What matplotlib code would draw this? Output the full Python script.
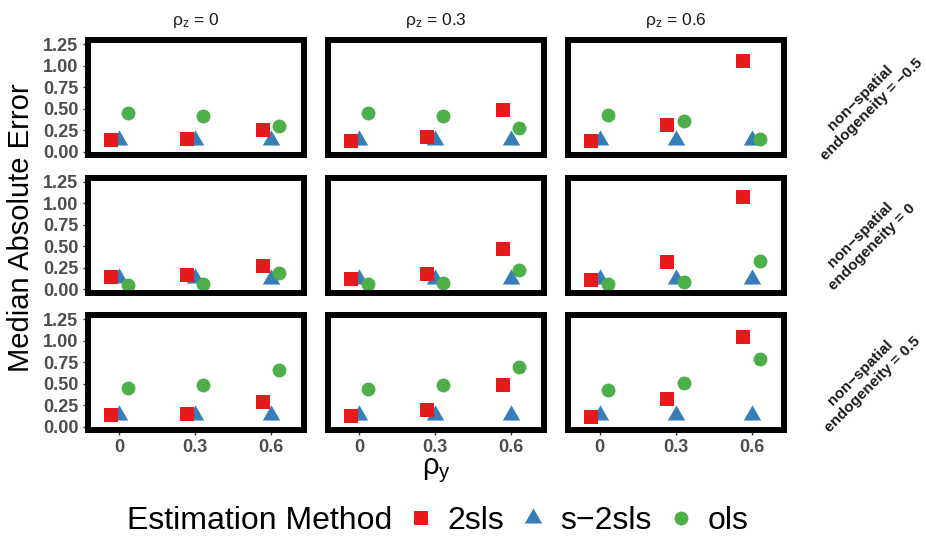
import matplotlib
matplotlib.use("Agg")
import matplotlib.pyplot as plt
from matplotlib.lines import Line2D

plt.rcParams['font.family'] = ['Liberation Sans', 'DejaVu Sans']
plt.rcParams['mathtext.fontset'] = 'custom'
plt.rcParams['mathtext.rm'] = 'Liberation Sans'

# facets
rho_z = ["0", "0.3", "0.6"]
endog = ["\u22120.5", "0", "0.5"]
rho_y = [0, 0.3, 0.6]

# median absolute error, [endogeneity row][rho_z col][rho_y]
mae_2sls = [
    [[0.13, 0.15, 0.25], [0.12, 0.17, 0.49], [0.12, 0.31, 1.05]],
    [[0.145, 0.16, 0.27], [0.12, 0.18, 0.47], [0.105, 0.31, 1.07]],
    [[0.135, 0.147, 0.29], [0.124, 0.194, 0.485], [0.115, 0.32, 1.048]],
]
mae_s2sls = [
    [[0.13, 0.13, 0.13], [0.13, 0.13, 0.13], [0.13, 0.13, 0.13]],
    [[0.125, 0.125, 0.115], [0.12, 0.12, 0.12], [0.12, 0.12, 0.12]],
    [[0.135, 0.135, 0.135], [0.135, 0.135, 0.135], [0.135, 0.135, 0.135]],
]
mae_ols = [
    [[0.45, 0.42, 0.30], [0.45, 0.42, 0.27], [0.43, 0.36, 0.15]],
    [[0.048, 0.06, 0.19], [0.056, 0.068, 0.22], [0.056, 0.08, 0.33]],
    [[0.446, 0.485, 0.66], [0.438, 0.485, 0.69], [0.427, 0.505, 0.788]],
]

c_2sls = "#E41A1C"
c_s2sls = "#377EB8"
c_ols = "#4DAF4A"
# triangle centred on its centroid like R's pch 17
tri = [(0, 1.555), (1.347, -0.778), (-1.347, -0.778)]

W, H = 926, 538
fig = plt.figure(figsize=(W / 100, H / 100), dpi=100)

lefts = [87.5, 327.5, 568]
tops = [40, 177.5, 315]
pw, ph = 216.5, 115
dodge = 0.033

for r in range(3):
    for c in range(3):
        ax = fig.add_axes([lefts[c] / W, 1 - (tops[r] + ph) / H, pw / W, ph / H])
        xs = rho_y
        ax.plot([x for x in xs], mae_s2sls[r][c], ls='none', marker=tri, ms=14.5,
                mew=0, color=c_s2sls, zorder=3)
        ax.plot([x + dodge for x in xs], mae_ols[r][c], ls='none', marker='o', ms=10,
                mew=0, color=c_ols, zorder=4)
        ax.plot([x - dodge for x in xs], mae_2sls[r][c], ls='none', marker='s', ms=10,
                mew=0, color=c_2sls, zorder=5)
        ax.set_xlim(-0.125, 0.73)
        ax.set_ylim(-0.04, 1.30)
        ax.set_xticks(rho_y)
        ax.set_xticklabels(["0", "0.3", "0.6"])
        ax.set_yticks([0, 0.25, 0.5, 0.75, 1.0, 1.25])
        ax.set_yticklabels(["0.00", "0.25", "0.50", "0.75", "1.00", "1.25"])
        for s in ax.spines.values():
            s.set_linewidth(4.3)
            s.set_color("black")
            s.set_zorder(6)
        ax.tick_params(axis='both', colors='#333333', labelcolor='#4d4d4d',
                       labelsize=13, length=3.5, width=1.0, pad=3)
        for lab in ax.get_xticklabels() + ax.get_yticklabels():
            lab.set_fontweight('bold')
        if c != 0:
            ax.tick_params(axis='y', left=False, labelleft=False)
        if r != 2:
            ax.tick_params(axis='x', bottom=False, labelbottom=False)
        if r == 0:
            ax.set_title(r'$\mathregular{\rho_z}$ = ' + rho_z[c], fontsize=12.5,
                         color='#1a1a1a', pad=11)
        if c == 2:
            fig.text(866 / W, 1 - (tops[r] + ph / 2 + 6) / H,
                     "non\u2212spatial\nendogeneity = " + endog[r],
                     rotation=45, ha='center', va='center', multialignment='center',
                     fontsize=11, fontweight='bold', color='#1a1a1a', linespacing=1.3)

fig.text(21 / W, 1 - 228 / H, "Median Absolute Error", rotation=90,
         ha='center', va='center', fontsize=21)
fig.text(436 / W, 1 - 471 / H, r'$\mathregular{\rho_y}$', ha='center', va='center',
         fontsize=21)

fig.text(127 / W, 1 - 521 / H, "Estimation Method", ha='left', va='center', fontsize=23)
handles = [
    Line2D([], [], ls='none', marker='s', ms=10, mew=0, color=c_2sls),
    Line2D([], [], ls='none', marker=tri, ms=14.5, mew=0, color=c_s2sls),
    Line2D([], [], ls='none', marker='o', ms=10, mew=0, color=c_ols),
]
fig.legend(handles, ["2sls", "s\u22122sls", "ols"], ncol=3, loc='center left',
           bbox_to_anchor=(409.6 / W, 1 - 521 / H), frameon=False, fontsize=23,
           handlelength=0.69, handletextpad=0.5, columnspacing=0.56, borderpad=0,
           borderaxespad=0)

fig.savefig("out.png", dpi=100)
